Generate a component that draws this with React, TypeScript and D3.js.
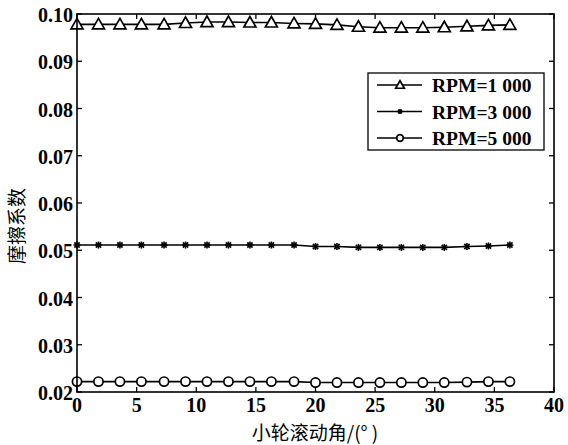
import React from "react";
import * as d3 from "d3";

const angles = [0, 1.8, 3.6, 5.4, 7.3, 9.1, 10.9, 12.7, 14.5, 16.3, 18.2, 20, 21.8, 23.6, 25.4, 27.2, 29, 30.8, 32.7, 34.5, 36.3];
const rpm1000 = [0.0978, 0.0978, 0.0978, 0.0978, 0.0978, 0.0981, 0.0983, 0.0983, 0.0982, 0.0982, 0.0980, 0.0979, 0.0977, 0.0973, 0.0971, 0.0971, 0.0971, 0.0972, 0.0974, 0.0976, 0.0977];
const rpm3000 = [0.0511, 0.0511, 0.0511, 0.0511, 0.0511, 0.0511, 0.0511, 0.0511, 0.0511, 0.0511, 0.0511, 0.0508, 0.0508, 0.0506, 0.0506, 0.0506, 0.0506, 0.0506, 0.0508, 0.0509, 0.0511];
const rpm5000 = [0.0222, 0.0222, 0.0222, 0.0222, 0.0222, 0.0222, 0.0222, 0.0222, 0.0222, 0.0222, 0.0222, 0.0220, 0.0220, 0.0220, 0.0220, 0.0220, 0.0220, 0.0220, 0.0221, 0.0222, 0.0222];
const xTicks = [0, 5, 10, 15, 20, 25, 30, 35, 40];
const yTicks = [0.02, 0.03, 0.04, 0.05, 0.06, 0.07, 0.08, 0.09, 0.10];
const seriesNames = ["RPM=1 000", "RPM=3 000", "RPM=5 000"];
const seriesValues = [rpm1000, rpm3000, rpm5000];
const markers = ["triangle", "star", "circle"];

const W = 568, H = 445;
const L = 77, R = 554, T = 14, B = 392;
const serif = "'Liberation Serif', 'Times New Roman', serif";
const cjk = "'Noto Sans CJK SC', sans-serif";

function Marker({ kind, x, y, k = 1 }: { kind: string; x: number; y: number; k?: number }) {
  if (kind === "triangle") {
    const s = 6 * k;
    return <path d={`M${x},${y - s}L${x + s},${y + s * 0.75}L${x - s},${y + s * 0.75}Z`} fill="white" stroke="black" strokeWidth={1.7} />;
  }
  if (kind === "circle") {
    return <circle cx={x} cy={y} r={4.6 * k} fill="white" stroke="black" strokeWidth={1.7} />;
  }
  const s = 3.5 * k;
  return (
    <g stroke="black" strokeWidth={1.6}>
      <line x1={x - s} y1={y} x2={x + s} y2={y} />
      <line x1={x} y1={y - s} x2={x} y2={y + s} />
      <line x1={x - s * 0.75} y1={y - s * 0.75} x2={x + s * 0.75} y2={y + s * 0.75} />
      <line x1={x - s * 0.75} y1={y + s * 0.75} x2={x + s * 0.75} y2={y - s * 0.75} />
    </g>
  );
}

export default function App() {
  const x = d3.scaleLinear().domain([0, 40]).range([L, R]);
  const y = d3.scaleLinear().domain([0.02, 0.1]).range([B, T]);
  const line = d3.line<number>().x((_, i) => x(angles[i])).y((d) => y(d));
  const tl = 5;
  return (
    <svg width={W} height={H} style={{ position: "absolute", left: 0, top: 0, background: "white" }}>
      <rect x={0} y={0} width={W} height={H} fill="white" />
      {seriesValues.map((vals, si) => (
        <g key={si}>
          <path d={line(vals) || ""} fill="none" stroke="black" strokeWidth={1.6} />
          {vals.map((v, i) => (
            <Marker key={i} kind={markers[si]} x={x(angles[i])} y={y(v)} />
          ))}
        </g>
      ))}
      <rect x={L} y={T} width={R - L} height={B - T} fill="none" stroke="black" strokeWidth={1.6} />
      {xTicks.map((t) => (
        <g key={t}>
          <line x1={x(t)} x2={x(t)} y1={B} y2={B - tl} stroke="black" strokeWidth={1.3} />
          <line x1={x(t)} x2={x(t)} y1={T} y2={T + tl} stroke="black" strokeWidth={1.3} />
          <text x={x(t)} y={412} textAnchor="middle" fontFamily={serif} fontWeight="bold" fontSize={20}>{t}</text>
        </g>
      ))}
      {yTicks.map((t) => (
        <g key={t}>
          <line x1={L} x2={L + tl} y1={y(t)} y2={y(t)} stroke="black" strokeWidth={1.3} />
          <line x1={R} x2={R - tl} y1={y(t)} y2={y(t)} stroke="black" strokeWidth={1.3} />
          <text x={73} y={y(t) + 8} textAnchor="end" fontFamily={serif} fontWeight="bold" fontSize={20}>{t.toFixed(2)}</text>
        </g>
      ))}
      <text x={315} y={440} textAnchor="middle" fontFamily={cjk} fontSize={19}>小轮滚动角/(°  )</text>
      <text transform={`translate(24,226) rotate(-90)`} textAnchor="middle" fontFamily={cjk} fontSize={19}>摩擦系数</text>
      <rect x={368} y={73} width={176} height={77} fill="white" stroke="black" strokeWidth={1.3} />
      {seriesNames.map((n, i) => {
        const ly = 85 + i * 26.5;
        return (
          <g key={n}>
            <line x1={377} x2={422} y1={ly} y2={ly} stroke="black" strokeWidth={1.6} />
            <Marker kind={markers[i]} x={400} y={ly} k={0.72} />
            <text x={432} y={ly + 7} fontFamily={serif} fontWeight="bold" fontSize={19.5}>{n}</text>
          </g>
        );
      })}
    </svg>
  );
}
